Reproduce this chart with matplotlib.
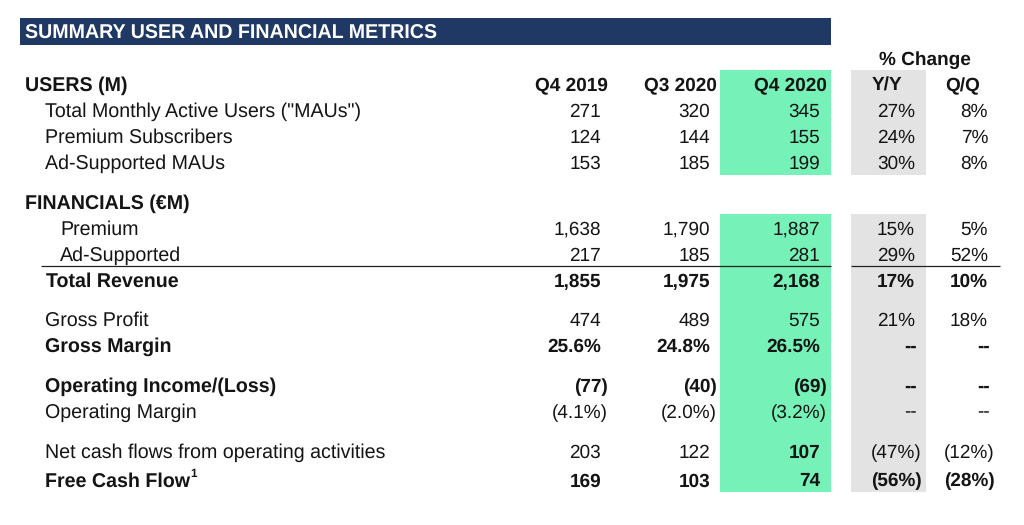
"""Summary user and financial metrics table, drawn as text on a pixel-sized axes."""

import matplotlib
matplotlib.use("Agg")
import matplotlib.pyplot as plt
from matplotlib.patches import Rectangle

plt.rcParams["font.family"] = ["Liberation Sans", "DejaVu Sans"]
plt.rcParams["text.hinting"] = "no_hinting"
plt.rcParams["text.hinting_factor"] = 8

# ---------------------------------------------------------------------------
# Data
# ---------------------------------------------------------------------------
title = "SUMMARY USER AND FINANCIAL METRICS"
change_title = "% Change"
users_section = "USERS (M)"
fin_section = "FINANCIALS (€M)"
periods = ["Q4 2019", "Q3 2020", "Q4 2020"]
change_heads = ["Y/Y", "Q/Q"]

labels = ['Total Monthly Active Users ("MAUs")', "Premium Subscribers", "Ad-Supported MAUs",
          "Premium", "Ad-Supported", "Total Revenue",
          "Gross Profit", "Gross Margin",
          "Operating Income/(Loss)", "Operating Margin",
          "Net cash flows from operating activities", "Free Cash Flow"]
q4_2019 = ["271", "124", "153", "1,638", "217", "1,855", "474", "25.6%",
           "(77)", "(4.1%)", "203", "169"]
q3_2020 = ["320", "144", "185", "1,790", "185", "1,975", "489", "24.8%",
           "(40)", "(2.0%)", "122", "103"]
q4_2020 = ["345", "155", "199", "1,887", "281", "2,168", "575", "26.5%",
           "(69)", "(3.2%)", "107", "74"]
yoy = ["27%", "24%", "30%", "15%", "29%", "17%", "21%", "--", "--", "--", "(47%)", "(56%)"]
qoq = ["8%", "7%", "8%", "5%", "52%", "10%", "18%", "--", "--", "--", "(12%)", "(28%)"]
bold_rows = [5, 7, 8, 11]

# ---------------------------------------------------------------------------
# Layout (pixels, origin top left)
# ---------------------------------------------------------------------------
FS = 13.65        # figures and column heads
FS_LABEL = 14.15  # row labels run slightly wider in the source
INK = "#141414"
NAVY = "#1f3864"
GREEN = "#76f2b8"
GRAY = "#e3e3e3"
row_base = [117, 142.8, 168.8, 235, 260.8, 286.8, 325.6, 351.6, 391.6, 417.6, 457.6, 486.5]
label_x = [45, 45, 45, 60, 60, 46, 45, 45, 45, 45, 45, 45]
col_right = [601, 710, 820, 915, 988]
head_base = 90.8
paren_shift = 6.5

fig = plt.figure(figsize=(10.24, 5.25), dpi=100)
ax = fig.add_axes([0, 0, 1, 1])
ax.set_xlim(0, 1024)
ax.set_ylim(525, 0)
ax.axis("off")

# Bands
ax.add_patch(Rectangle((20, 18), 811, 26.5, color=NAVY, lw=0))
for x0, w, colour in [(720, 111, GREEN), (851, 75, GRAY)]:
    ax.add_patch(Rectangle((x0, 70), w, 105, color=colour, lw=0))
    ax.add_patch(Rectangle((x0, 214), w, 278, color=colour, lw=0))

# Rule above Total Revenue
ax.plot([41, 831], [266.3, 266.3], color="#222222", lw=0.9, solid_capstyle="butt")
ax.plot([851, 1000], [266.3, 266.3], color="#222222", lw=0.9, solid_capstyle="butt")


def put(x, y, s, bold=False, ha="left", color=INK, size=FS):
    ax.text(x, y, s, ha=ha, va="baseline", color=color, fontsize=size,
            fontweight="bold" if bold else "normal")


# Headings
put(25, 38.5, title, bold=True, color="white", size=FS_LABEL)
put(925, 64.5, change_title, bold=True, ha="center")
put(25, head_base, users_section, bold=True, size=FS_LABEL)
put(25, 208.5, fin_section, bold=True, size=FS_LABEL)
for name, x in zip(periods, col_right[:3]):
    put(x + paren_shift, head_base, name, bold=True, ha="right")
put(886.5, head_base, change_heads[0], bold=True, ha="center")
put(963, head_base, change_heads[1], bold=True, ha="center")

# Rows
columns = [q4_2019, q3_2020, q4_2020, yoy, qoq]
for i, label in enumerate(labels):
    is_bold = i in bold_rows
    put(label_x[i], row_base[i], label, bold=is_bold, size=FS_LABEL)
    for col, right in zip(columns, col_right):
        val = col[i]
        x = right + paren_shift if val.endswith(")") else right
        if val == "--":
            x = right + 1.5
        # the Q4 2020 operating cash flow figure is bold in the source
        put(x, row_base[i], val, bold=is_bold or val == "107", ha="right")

# Footnote marker
put(190, 477, "1", bold=True, size=8.5)

fig.savefig("out.png", dpi=100)
